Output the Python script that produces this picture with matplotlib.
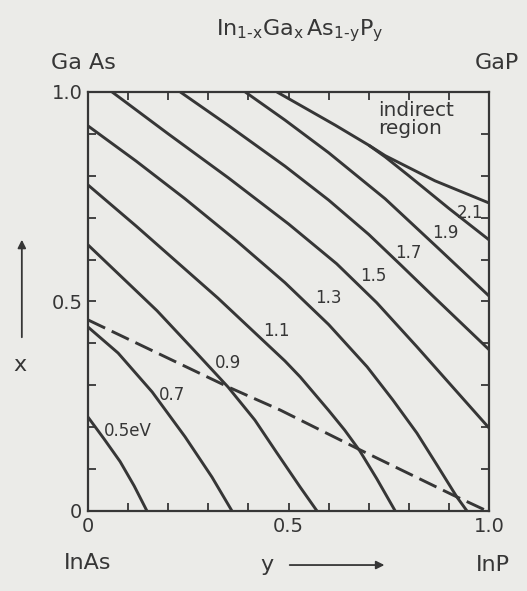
import numpy as np
import matplotlib
matplotlib.use("Agg")
import matplotlib.pyplot as plt

# band gap contours of In(1-x)Ga(x)As(1-y)P(y) as (y, x)
y_05 = [0.0, 0.04, 0.08, 0.115, 0.147]
x_05 = [0.224, 0.172, 0.118, 0.06, 0.0]
y_07 = [0.0, 0.075, 0.16, 0.242, 0.309, 0.359]
x_07 = [0.439, 0.377, 0.284, 0.177, 0.081, 0.0]
y_09 = [0.0, 0.08, 0.172, 0.26, 0.349, 0.416, 0.47, 0.529, 0.571]
x_09 = [0.635, 0.562, 0.478, 0.388, 0.296, 0.217, 0.14, 0.057, 0.0]
y_11 = [0.0, 0.12, 0.324, 0.491, 0.529, 0.6, 0.64, 0.678, 0.72, 0.766]
x_11 = [0.778, 0.68, 0.508, 0.358, 0.32, 0.24, 0.193, 0.143, 0.077, 0.0]
y_13 = [0.0, 0.12, 0.242, 0.37, 0.491, 0.6, 0.696, 0.76, 0.82, 0.87, 0.92, 0.945]
x_13 = [0.919, 0.835, 0.745, 0.645, 0.545, 0.445, 0.344, 0.265, 0.186, 0.11, 0.033, 0.0]
y_15 = [0.06, 0.2, 0.35, 0.5, 0.62, 0.72, 0.82, 0.91, 1.0]
x_15 = [1.0, 0.9, 0.795, 0.685, 0.59, 0.497, 0.392, 0.295, 0.198]
y_17 = [0.23, 0.35, 0.491, 0.6, 0.70, 0.78, 0.86, 0.93, 1.0]
x_17 = [1.0, 0.92, 0.823, 0.742, 0.66, 0.587, 0.513, 0.449, 0.385]
y_19 = [0.392, 0.491, 0.6, 0.741, 0.87, 1.0]
x_19 = [1.0, 0.933, 0.855, 0.745, 0.63, 0.513]
y_21 = [0.471, 0.616, 0.70, 0.741, 0.80, 0.9, 1.0]
x_21 = [1.0, 0.921, 0.873, 0.845, 0.80, 0.722, 0.647]
# direct/indirect boundary
y_ind = [0.70, 0.741, 0.865, 1.0]
x_ind = [0.873, 0.848, 0.788, 0.735]
# lattice matched to InP (dashed)
y_lm = [0.0, 0.354, 0.479, 0.678, 0.91, 0.995]
x_lm = [0.456, 0.294, 0.241, 0.146, 0.038, 0.0]

gap_labels = ["0.5eV", "0.7", "0.9", "1.1", "1.3", "1.5", "1.7", "1.9", "2.1"]
label_y = [0.10, 0.21, 0.35, 0.47, 0.60, 0.711, 0.798, 0.89, 0.953]
label_x = [0.19, 0.277, 0.353, 0.43, 0.508, 0.561, 0.616, 0.663, 0.711]

ticks = np.round(np.arange(0, 1.01, 0.1), 1)
tick_labels = ["0", "", "", "", "", "0.5", "", "", "", "", "1.0"]

paper = "#ebebe8"
ink = "#363636"

fig = plt.figure(figsize=(5.27, 5.91), dpi=100, facecolor=paper)
ax = fig.add_axes([0.167, 0.1354, 0.761, 0.709])
ax.set_facecolor(paper)

curves = [(y_05, x_05), (y_07, x_07), (y_09, x_09), (y_11, x_11), (y_13, x_13),
          (y_15, x_15), (y_17, x_17), (y_19, x_19), (y_21, x_21), (y_ind, x_ind)]
for cy, cx in curves:
    ax.plot(cy, cx, color=ink, lw=2.1, solid_capstyle="butt", solid_joinstyle="round")
ax.plot(y_lm, x_lm, color=ink, lw=2.1, dashes=(6.5, 2.5))

for t, ly, lx in zip(gap_labels, label_y, label_x):
    ax.text(ly, lx, t, fontsize=12, color=ink, ha="center", va="center")
ax.text(0.723, 0.935, "indirect\nregion", fontsize=14.5, color=ink, ha="left",
        va="center", linespacing=0.95)

ax.set_xlim(0, 1)
ax.set_ylim(0, 1)
ax.set_xticks(ticks)
ax.set_yticks(ticks)
ax.set_xticklabels(tick_labels)
ax.set_yticklabels(tick_labels)
ax.tick_params(direction="in", length=6, width=1.3, colors=ink, labelsize=14,
               top=True, right=True, pad=4)
for s in ax.spines.values():
    s.set_linewidth(1.6)
    s.set_color(ink)

# corner compounds, axis names and arrows
ax.text(-0.012, 1.069, "Ga As", fontsize=16, color=ink, ha="center", va="center", clip_on=False)
ax.text(1.02, 1.069, "GaP", fontsize=16, color=ink, ha="center", va="center", clip_on=False)
ax.text(0.0, -0.124, "InAs", fontsize=16, color=ink, ha="center", va="center", clip_on=False)
ax.text(1.01, -0.129, "InP", fontsize=16, color=ink, ha="center", va="center", clip_on=False)
ax.text(0.446, -0.129, "y", fontsize=16, color=ink, ha="center", va="center", clip_on=False)
ax.text(-0.17, 0.348, "x", fontsize=16, color=ink, ha="center", va="center", clip_on=False)
ax.annotate("", xy=(0.746, -0.129), xytext=(0.496, -0.129), xycoords="data",
            arrowprops=dict(arrowstyle="-|>", color=ink, lw=1.3, mutation_scale=12),
            annotation_clip=False)
ax.annotate("", xy=(-0.165, 0.654), xytext=(-0.165, 0.408), xycoords="data",
            arrowprops=dict(arrowstyle="-|>", color=ink, lw=1.3, mutation_scale=12),
            annotation_clip=False)

fig.text(0.569, 0.949, r"$\mathregular{In_{1\text{-}x}Ga_x\,As_{1\text{-}y}P_y}$",
         fontsize=16, color=ink, ha="center", va="center")

fig.savefig("out.png", dpi=100, facecolor=paper)
